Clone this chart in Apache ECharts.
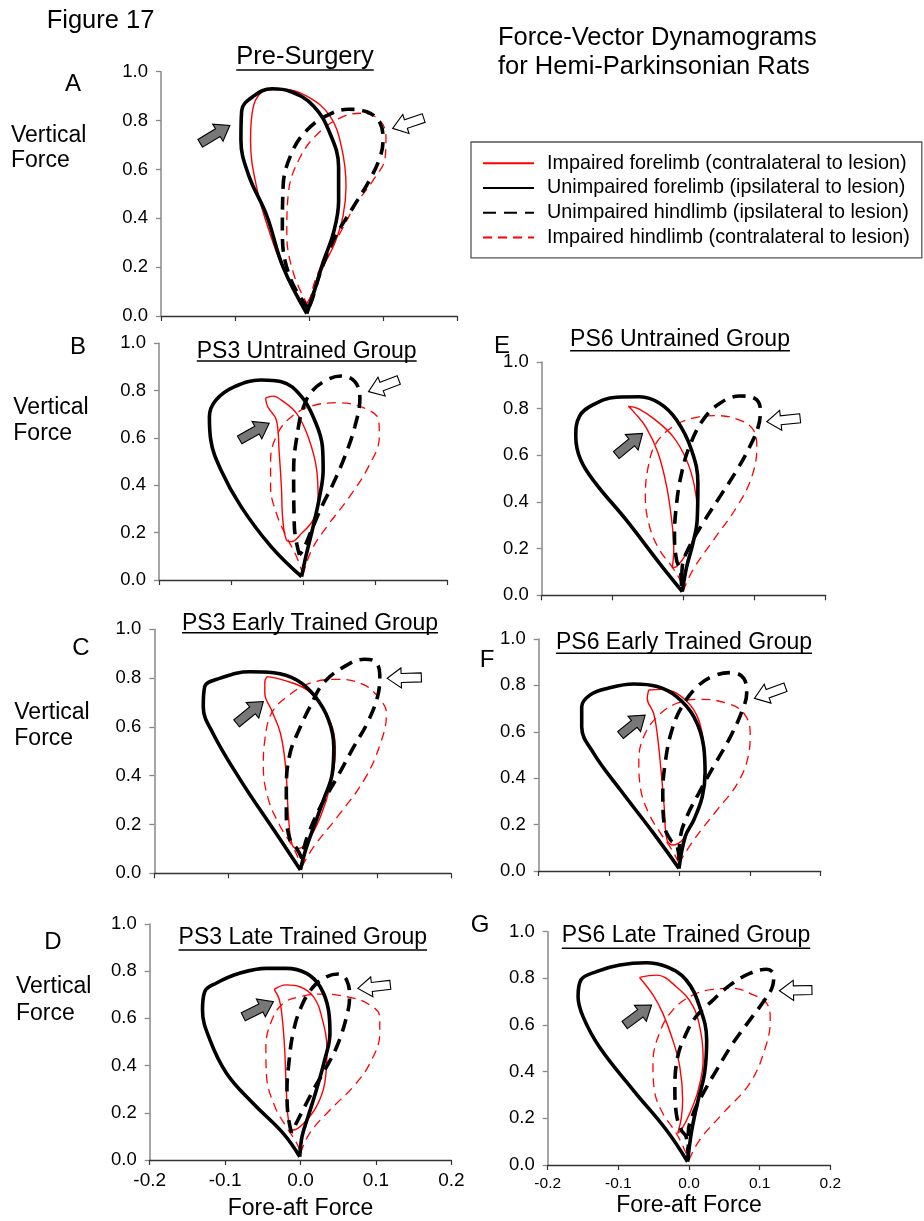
<!DOCTYPE html>
<html><head><meta charset="utf-8">
<script src="https://cdn.jsdelivr.net/npm/echarts@6/dist/echarts.min.js"></script>
<style>html,body{margin:0;padding:0;background:#fff}#c{width:924px;height:1221px}</style>
</head><body><div id="c"></div>
<script>
// ---------- names / labels ----------
const NAME_IF = 'Impaired forelimb (contralateral to lesion)';
const NAME_UF = 'Unimpaired forelimb (ipsilateral to lesion)';
const NAME_UH = 'Unimpaired hindlimb (ipsilateral to lesion)';
const NAME_IH = 'Impaired hindlimb (contralateral to lesion)';
const panelLetters = ['A','B','C','D','E','F','G'];
const panelTitles = ['Pre-Surgery','PS3 Untrained Group','PS3 Early Trained Group','PS3 Late Trained Group',
  'PS6 Untrained Group','PS6 Early Trained Group','PS6 Late Trained Group'];
const xTickValues = [-0.2,-0.1,0.0,0.1,0.2];
const yTickValues = [0.0,0.2,0.4,0.6,0.8,1.0];

// ---------- data: [fore-aft, vertical] ----------
// Panel A  (Pre-Surgery)
const aImpFore = [[-0.005,0.04],[-0.030,0.16],[-0.053,0.34],[-0.071,0.53],[-0.079,0.72],[-0.075,0.86],[-0.057,0.925],[-0.035,0.928],[-0.003,0.90],[0.028,0.82],[0.044,0.69],[0.050,0.53],[0.046,0.41],[0.035,0.30],[0.019,0.20],[0.004,0.09],[-0.005,0.04]];
const aUnimpFore = [[-0.003,0.01],[-0.035,0.20],[-0.057,0.41],[-0.082,0.58],[-0.092,0.72],[-0.091,0.84],[-0.075,0.90],[-0.050,0.93],[-0.026,0.92],[0.006,0.86],[0.028,0.75],[0.040,0.61],[0.040,0.47],[0.033,0.34],[0.019,0.22],[0.008,0.11],[-0.003,0.01]];
const aUnimpHind = [[-0.001,0.03],[-0.026,0.16],[-0.036,0.34],[-0.035,0.53],[-0.023,0.67],[-0.003,0.76],[0.024,0.82],[0.053,0.846],[0.078,0.836],[0.096,0.79],[0.100,0.72],[0.096,0.65],[0.082,0.557],[0.060,0.447],[0.033,0.31],[0.015,0.175],[0.004,0.065],[-0.001,0.03]];
const aImpHind = [[-0.001,0.04],[-0.021,0.175],[-0.030,0.34],[-0.028,0.50],[-0.012,0.65],[0.015,0.755],[0.046,0.816],[0.073,0.83],[0.096,0.80],[0.104,0.73],[0.103,0.65],[0.087,0.557],[0.064,0.46],[0.042,0.34],[0.026,0.256],[0.010,0.16],[0.001,0.065],[-0.001,0.04]];
const aArrows = [[-0.147,0.707,-0.107,0.78,0],[0.155,0.81,0.113,0.768,1]];

// Panel B  (PS3 Untrained)
const bImpFore = [[-0.052,0.768],[-0.042,0.777],[-0.030,0.76],[-0.009,0.704],[0.007,0.606],[0.019,0.465],[0.021,0.338],[0.014,0.254],[-0.002,0.197],[-0.016,0.162],[-0.023,0.169],[-0.028,0.254],[-0.030,0.394],[-0.033,0.535],[-0.037,0.676],[-0.049,0.732],[-0.052,0.768]];
const bUnimpFore = [[-0.002,0.014],[-0.044,0.14],[-0.086,0.31],[-0.114,0.465],[-0.128,0.59],[-0.130,0.69],[-0.121,0.76],[-0.095,0.817],[-0.058,0.845],[-0.030,0.838],[-0.002,0.775],[0.016,0.676],[0.027,0.563],[0.028,0.465],[0.023,0.352],[0.014,0.225],[0.004,0.10],[-0.002,0.014]];
const bUnimpHind = [[-0.005,0.106],[-0.012,0.225],[-0.013,0.465],[-0.007,0.634],[0.000,0.725],[0.012,0.796],[0.033,0.845],[0.053,0.862],[0.072,0.838],[0.079,0.768],[0.072,0.648],[0.058,0.521],[0.042,0.408],[0.026,0.31],[0.012,0.211],[0.000,0.127],[-0.005,0.106]];
const bImpHind = [[0.000,0.021],[0.012,0.127],[0.033,0.225],[0.063,0.345],[0.091,0.479],[0.106,0.606],[0.105,0.676],[0.086,0.725],[0.049,0.749],[0.012,0.735],[-0.016,0.69],[-0.035,0.62],[-0.045,0.507],[-0.045,0.394],[-0.037,0.282],[-0.023,0.183],[-0.009,0.099],[0.000,0.021]];
const bArrows = [[-0.088,0.592,-0.047,0.662,0],[0.133,0.845,0.091,0.796,1]];

// Panel C  (PS3 Early Trained)
const cImpFore = [[-0.048,0.806],[-0.026,0.792],[0.006,0.751],[0.028,0.669],[0.042,0.574],[0.044,0.492],[0.037,0.355],[0.024,0.232],[0.008,0.137],[-0.005,0.102],[-0.014,0.116],[-0.019,0.232],[-0.023,0.437],[-0.030,0.574],[-0.042,0.669],[-0.051,0.738],[-0.051,0.786],[-0.048,0.806]];
const cUnimpFore = [[-0.003,0.014],[-0.039,0.178],[-0.084,0.383],[-0.121,0.574],[-0.134,0.683],[-0.132,0.765],[-0.112,0.799],[-0.071,0.826],[-0.039,0.822],[-0.008,0.792],[0.017,0.724],[0.035,0.628],[0.042,0.519],[0.040,0.41],[0.028,0.30],[0.015,0.191],[0.004,0.096],[-0.003,0.014]];
const cUnimpHind = [[-0.001,0.061],[-0.008,0.102],[-0.017,0.137],[-0.022,0.246],[-0.022,0.355],[-0.017,0.492],[-0.005,0.587],[0.010,0.683],[0.028,0.779],[0.056,0.847],[0.083,0.877],[0.098,0.867],[0.104,0.813],[0.101,0.724],[0.087,0.615],[0.069,0.519],[0.047,0.396],[0.024,0.273],[0.008,0.164],[0.001,0.096],[-0.001,0.061]];
const cImpHind = [[-0.001,0.027],[0.015,0.109],[0.047,0.232],[0.083,0.383],[0.105,0.533],[0.113,0.656],[0.105,0.71],[0.083,0.772],[0.047,0.795],[0.010,0.779],[-0.021,0.724],[-0.042,0.656],[-0.051,0.546],[-0.053,0.437],[-0.046,0.301],[-0.030,0.191],[-0.012,0.102],[-0.003,0.041],[-0.001,0.027]];
const cArrows = [[-0.089,0.615,-0.053,0.704,0],[0.160,0.803,0.114,0.799,1]];

// Panel D  (PS3 Late Trained)
const dImpFore = [[-0.035,0.723],[-0.019,0.742],[-0.001,0.734],[0.017,0.692],[0.028,0.607],[0.035,0.466],[0.032,0.325],[0.021,0.226],[0.004,0.155],[-0.010,0.127],[-0.016,0.169],[-0.019,0.311],[-0.021,0.466],[-0.024,0.593],[-0.028,0.678],[-0.035,0.723]];
const dUnimpFore = [[-0.001,0.014],[-0.023,0.113],[-0.063,0.24],[-0.098,0.367],[-0.120,0.508],[-0.130,0.636],[-0.127,0.713],[-0.112,0.749],[-0.081,0.791],[-0.045,0.812],[-0.019,0.812],[0.008,0.791],[0.026,0.734],[0.037,0.636],[0.039,0.537],[0.032,0.424],[0.021,0.297],[0.010,0.184],[0.002,0.10],[-0.001,0.014]];
const dUnimpHind = [[-0.012,0.115],[-0.017,0.20],[-0.018,0.30],[-0.016,0.395],[-0.010,0.537],[0.001,0.65],[0.017,0.734],[0.035,0.777],[0.050,0.788],[0.061,0.763],[0.065,0.692],[0.061,0.607],[0.048,0.48],[0.032,0.381],[0.017,0.297],[0.001,0.198],[-0.008,0.141],[-0.012,0.115]];
const dImpHind = [[0.000,0.028],[0.012,0.113],[0.039,0.212],[0.070,0.311],[0.092,0.41],[0.105,0.537],[0.105,0.607],[0.088,0.664],[0.061,0.692],[0.030,0.703],[-0.001,0.692],[-0.023,0.664],[-0.038,0.593],[-0.046,0.48],[-0.045,0.353],[-0.034,0.226],[-0.019,0.141],[-0.005,0.071],[0.000,0.028]];
const dArrows = [[-0.076,0.607,-0.036,0.671,0],[0.119,0.742,0.076,0.727,1]];

// Panel E  (PS6 Untrained)
const eImpFore = [[-0.078,0.81],[-0.064,0.80],[-0.040,0.752],[-0.015,0.68],[0.004,0.58],[0.015,0.47],[0.019,0.36],[0.016,0.266],[0.004,0.18],[-0.010,0.123],[-0.016,0.118],[-0.014,0.20],[-0.017,0.323],[-0.024,0.466],[-0.036,0.609],[-0.053,0.72],[-0.070,0.785],[-0.078,0.81]];
const eUnimpFore = [[-0.002,0.016],[-0.034,0.137],[-0.081,0.323],[-0.124,0.48],[-0.145,0.58],[-0.152,0.68],[-0.147,0.766],[-0.128,0.816],[-0.095,0.849],[-0.062,0.851],[-0.034,0.823],[-0.010,0.751],[0.011,0.623],[0.020,0.48],[0.019,0.323],[0.013,0.223],[0.004,0.12],[-0.002,0.016]];
const eUnimpHind = [[-0.003,0.04],[-0.005,0.11],[-0.010,0.15],[-0.013,0.251],[-0.010,0.394],[-0.003,0.523],[0.008,0.637],[0.027,0.751],[0.051,0.823],[0.079,0.854],[0.100,0.844],[0.108,0.794],[0.105,0.723],[0.093,0.637],[0.075,0.537],[0.051,0.423],[0.027,0.309],[0.008,0.209],[-0.002,0.123],[-0.003,0.04]];
const eImpHind = [[-0.001,0.016],[0.013,0.109],[0.042,0.237],[0.075,0.38],[0.096,0.509],[0.103,0.637],[0.098,0.709],[0.079,0.751],[0.046,0.77],[0.013,0.759],[-0.015,0.723],[-0.039,0.651],[-0.050,0.551],[-0.054,0.423],[-0.048,0.294],[-0.034,0.194],[-0.015,0.116],[-0.003,0.051],[-0.001,0.016]];
const eArrows = [[-0.095,0.601,-0.058,0.694,0],[0.164,0.759,0.117,0.744,1]];

// Panel F  (PS6 Early Trained)
const fImpFore = [[-0.044,0.78],[-0.027,0.783],[-0.004,0.766],[0.020,0.694],[0.032,0.593],[0.036,0.478],[0.032,0.335],[0.020,0.22],[0.006,0.141],[-0.009,0.112],[-0.018,0.134],[-0.022,0.277],[-0.027,0.45],[-0.032,0.593],[-0.037,0.68],[-0.046,0.744],[-0.044,0.78]];
const fUnimpFore = [[-0.001,0.011],[-0.037,0.162],[-0.084,0.349],[-0.122,0.507],[-0.139,0.622],[-0.139,0.708],[-0.127,0.759],[-0.103,0.787],[-0.065,0.806],[-0.032,0.795],[-0.004,0.751],[0.020,0.665],[0.034,0.536],[0.036,0.421],[0.032,0.32],[0.020,0.22],[0.008,0.15],[-0.001,0.011]];
const fUnimpHind = [[-0.001,0.047],[-0.004,0.11],[-0.013,0.134],[-0.022,0.20],[-0.024,0.335],[-0.020,0.478],[-0.011,0.608],[0.003,0.708],[0.025,0.795],[0.048,0.841],[0.074,0.855],[0.091,0.83],[0.095,0.766],[0.089,0.694],[0.072,0.579],[0.048,0.45],[0.027,0.335],[0.010,0.234],[0.001,0.148],[-0.001,0.047]];
const fImpHind = [[-0.001,0.033],[0.020,0.134],[0.053,0.263],[0.082,0.378],[0.098,0.507],[0.100,0.593],[0.091,0.68],[0.067,0.723],[0.029,0.74],[-0.004,0.723],[-0.032,0.665],[-0.051,0.579],[-0.058,0.478],[-0.056,0.364],[-0.044,0.249],[-0.027,0.162],[-0.011,0.091],[-0.001,0.033]];
const fArrows = [[-0.084,0.586,-0.049,0.672,0],[0.150,0.792,0.106,0.744,1]];

// Panel G  (PS6 Late Trained)
const gImpFore = [[-0.070,0.804],[-0.046,0.814],[-0.018,0.764],[0.006,0.679],[0.017,0.564],[0.020,0.45],[0.013,0.321],[0.001,0.221],[-0.011,0.15],[-0.016,0.136],[-0.011,0.20],[-0.009,0.279],[-0.013,0.421],[-0.023,0.536],[-0.037,0.65],[-0.051,0.729],[-0.070,0.804]];
const gUnimpFore = [[-0.002,0.014],[-0.032,0.15],[-0.079,0.321],[-0.127,0.507],[-0.150,0.636],[-0.157,0.721],[-0.153,0.793],[-0.131,0.829],[-0.098,0.857],[-0.061,0.867],[-0.032,0.85],[-0.004,0.793],[0.015,0.679],[0.025,0.536],[0.022,0.393],[0.013,0.279],[0.004,0.15],[-0.002,0.014]];
const gUnimpHind = [[-0.001,0.02],[-0.004,0.12],[-0.011,0.15],[-0.018,0.221],[-0.020,0.336],[-0.016,0.464],[-0.006,0.55],[0.010,0.636],[0.034,0.707],[0.058,0.771],[0.086,0.821],[0.110,0.839],[0.120,0.814],[0.118,0.764],[0.107,0.707],[0.086,0.621],[0.062,0.521],[0.039,0.407],[0.020,0.307],[0.006,0.221],[-0.001,0.136],[-0.001,0.02]];
const gImpHind = [[0.000,0.021],[0.015,0.107],[0.048,0.221],[0.086,0.35],[0.107,0.493],[0.115,0.621],[0.110,0.693],[0.091,0.729],[0.062,0.757],[0.034,0.753],[0.006,0.729],[-0.023,0.664],[-0.042,0.564],[-0.051,0.436],[-0.049,0.321],[-0.037,0.221],[-0.018,0.136],[-0.004,0.05],[0.000,0.021]];
const gArrows = [[-0.091,0.600,-0.053,0.686,0],[0.174,0.750,0.128,0.747,1]];

const panelData = [
  [aImpFore,aUnimpFore,aUnimpHind,aImpHind,aArrows],
  [bImpFore,bUnimpFore,bUnimpHind,bImpHind,bArrows],
  [cImpFore,cUnimpFore,cUnimpHind,cImpHind,cArrows],
  [dImpFore,dUnimpFore,dUnimpHind,dImpHind,dArrows],
  [eImpFore,eUnimpFore,eUnimpHind,eImpHind,eArrows],
  [fImpFore,fUnimpFore,fUnimpHind,fImpHind,fArrows],
  [gImpFore,gUnimpFore,gUnimpHind,gImpHind,gArrows]
];

// ---------- layout (pixels) ----------
const FONT = '"Liberation Sans", Arial, sans-serif';
const gridBoxes = [
  {left:161, top:71.7, width:296, height:244.3},
  {left:159, top:343.3, width:288, height:236.7},
  {left:154.3, top:629.3, width:296.7, height:244},
  {left:149.7, top:924, width:301.7, height:236},
  {left:541.7, top:362, width:284, height:233.3},
  {left:538.7, top:639, width:282, height:232},
  {left:547.7, top:931.7, width:282.6, height:233.3}
];
const titlePos = [[305,56.5,70,25.5],[306.7,351.7,361,23],[310,623.7,632.7,23],[302.8,937.7,950,23],
  [680,339.4,350.7,23],[684,642.7,653.3,23],[686,936,948.3,23]];
const letterPos = [[73,84],[78,347],[81,648],[53,942],[502,346],[487,660],[480,925]];
const vfPos = [[11,136,160.5],[13.3,408,434],[14.3,712.3,738.3],[16,986.7,1013.3]];

const measureCtx = document.createElement('canvas').getContext('2d');
function textWidth(t, size){ measureCtx.font = size + 'px ' + FONT; return measureCtx.measureText(t).width; }

function renderArrow(params, api){
  const t = api.coord([api.value(0), api.value(1)]);
  const h = api.coord([api.value(2), api.value(3)]);
  const kind = api.value(4);
  const dx = h[0]-t[0], dy = h[1]-t[1];
  const L = Math.hypot(dx,dy), ux = dx/L, uy = dy/L, nx = -uy, ny = ux;
  const hl = 14, sw = 4.5, hw = 10;
  const bx = h[0]-ux*hl, by = h[1]-uy*hl;
  const pts = [[t[0]+nx*sw,t[1]+ny*sw],[bx+nx*sw,by+ny*sw],[bx+nx*hw,by+ny*hw],[h[0],h[1]],
    [bx-nx*hw,by-ny*hw],[bx-nx*sw,by-ny*sw],[t[0]-nx*sw,t[1]-ny*sw]];
  return {type:'polygon', shape:{points:pts},
    style:{fill: kind === 0 ? '#777777' : '#ffffff', stroke:'#000', lineWidth:1.1}};
}

const grids = [], xAxes = [], yAxes = [], series = [], graphics = [];
gridBoxes.forEach((b,i)=>{
  grids.push(Object.assign({containLabel:false}, b));
  const showX = (i === 3 || i === 6);
  xAxes.push({type:'value', gridIndex:i, min:-0.2, max:0.2, interval:0.1,
    axisLine:{onZero:false, lineStyle:{color:'#333', width:1.3}},
    axisTick:{show:true, length:5, lineStyle:{color:'#333', width:1.2}},
    splitLine:{show:false},
    axisLabel:{show:showX, fontFamily:FONT, fontSize: i===3 ? 19 : 15.5, color:'#000', margin:11,
      formatter:v=>v.toFixed(1)},
    name: showX ? 'Fore-aft Force' : '', nameLocation:'middle', nameGap: i===3 ? 37 : 29,
    nameTextStyle:{fontFamily:FONT, fontSize:23, color:'#000'}
  });
  yAxes.push({type:'value', gridIndex:i, min:0, max:1, interval:0.2,
    axisLine:{show:true, onZero:false, lineStyle:{color:'#888', width:1.5}},
    axisTick:{show:true, length:5, lineStyle:{color:'#888', width:1.3}},
    splitLine:{show:false},
    axisLabel:{fontFamily:FONT, fontSize:18.5, color:'#000', margin:13, formatter:v=>v.toFixed(1)}
  });
  const d = panelData[i];
  const common = {type:'line', xAxisIndex:i, yAxisIndex:i, symbol:'none', showSymbol:false, smooth:0.4, silent:true};
  series.push(Object.assign({}, common, {name:NAME_IH, data:d[3], z:2,
    lineStyle:{color:'#ff0000', width:1.3, type:[9,6]}, itemStyle:{color:'#ff0000'}}));
  series.push(Object.assign({}, common, {name:NAME_IF, data:d[0], z:3,
    lineStyle:{color:'#ff0000', width:1.4, type:'solid'}, itemStyle:{color:'#ff0000'}}));
  series.push(Object.assign({}, common, {name:NAME_UH, data:d[2], z:4,
    lineStyle:{color:'#000000', width:3.6, type:[13,8]}, itemStyle:{color:'#000000'}}));
  series.push(Object.assign({}, common, {name:NAME_UF, data:d[1], z:5,
    lineStyle:{color:'#000000', width:3.6, type:'solid'}, itemStyle:{color:'#000000'}}));
  series.push({type:'custom', xAxisIndex:i, yAxisIndex:i, data:d[4], renderItem:renderArrow,
    encode:{x:[0,2], y:[1,3]}, clip:false, silent:true, z:6});

  // subplot title with underline
  const [cx, cy, uy, fs] = titlePos[i];
  const w = textWidth(panelTitles[i], fs);
  graphics.push({type:'text', x:cx, y:cy, style:{text:panelTitles[i], font:fs+'px '+FONT, fill:'#000', align:'center', verticalAlign:'middle'}});
  graphics.push({type:'line', shape:{x1:cx-w/2, y1:uy, x2:cx+w/2, y2:uy}, style:{stroke:'#000', lineWidth:1.6}});
  // panel letter
  graphics.push({type:'text', x:letterPos[i][0], y:letterPos[i][1], style:{text:panelLetters[i], font:'24px '+FONT, fill:'#000', align:'center', verticalAlign:'middle'}});
});
vfPos.forEach(p=>{
  graphics.push({type:'text', x:p[0], y:p[1], style:{text:'Vertical', font:'23px '+FONT, fill:'#000', align:'left', verticalAlign:'middle'}});
  graphics.push({type:'text', x:p[0], y:p[2], style:{text:'Force', font:'23px '+FONT, fill:'#000', align:'left', verticalAlign:'middle'}});
});
graphics.push({type:'text', x:46.7, y:20.5, style:{text:'Figure 17', font:'25.5px '+FONT, fill:'#000', align:'left', verticalAlign:'middle'}});
graphics.push({type:'text', x:498, y:38.3, style:{text:'Force-Vector Dynamograms', font:'25.5px '+FONT, fill:'#000', align:'left', verticalAlign:'middle'}});
graphics.push({type:'text', x:498, y:66.7, style:{text:'for Hemi-Parkinsonian Rats', font:'25.5px '+FONT, fill:'#000', align:'left', verticalAlign:'middle'}});

const chart = echarts.init(document.getElementById('c'), null, {renderer:'canvas'});
chart.setOption({
  animation:false,
  backgroundColor:'#fff',
  grid:grids, xAxis:xAxes, yAxis:yAxes, series:series,
  legend:{
    data:[NAME_IF, NAME_UF, NAME_UH, NAME_IH],
    orient:'vertical', left:471, top:142,
    itemWidth:51, itemHeight:14, itemGap:4.7,
    padding:[11.3,12,10.4,11],
    borderColor:'#555', borderWidth:1.3, selectedMode:false,
    itemStyle:{opacity:0, borderWidth:0},
    textStyle:{fontFamily:FONT, fontSize:19.8, color:'#000', lineHeight:20, padding:[0,0,0,8]}
  },
  graphic:{elements:graphics}
});
</script></body></html>
